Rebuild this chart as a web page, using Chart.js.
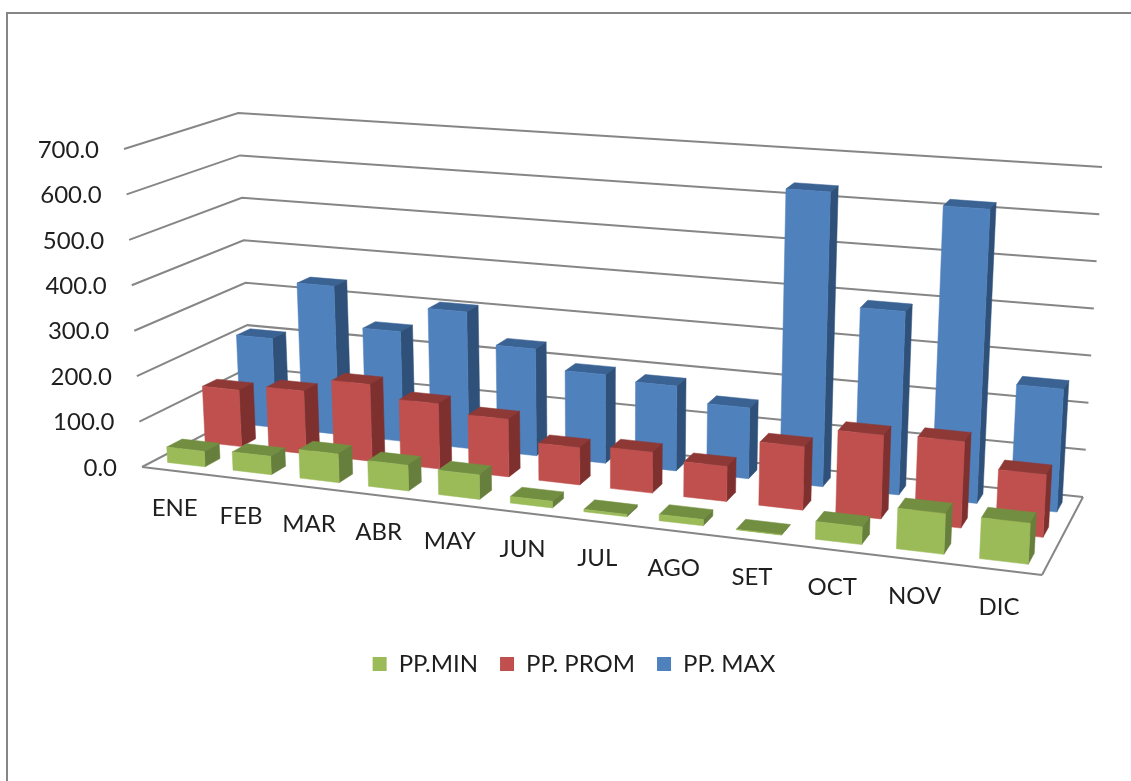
<!DOCTYPE html>
<html>
<head>
<meta charset="utf-8">
<script src="https://cdn.jsdelivr.net/npm/chart.js@4/dist/chart.umd.js"></script>
<style>
  html, body { margin: 0; padding: 0; background: #fff; overflow: hidden; }
  #stage { position: relative; width: 1131px; height: 781px; }
  #frame { position: absolute; left: 6px; top: 12px; right: -4px; bottom: -4px; border: 2px solid #868686; }
  canvas { position: absolute; left: 0; top: 0; }
</style>
</head>
<body>
<div id="stage">
  <div id="frame"></div>
  <canvas id="chart" width="1131" height="781"></canvas>
</div>
<script>
const months = ['ENE','FEB','MAR','ABR','MAY','JUN','JUL','AGO','SET','OCT','NOV','DIC'];
const ppMin  = [34, 40, 62, 55, 52, 14, 5, 13, 1, 36, 82, 82];
const ppProm = [127, 140, 170, 143, 125, 80, 87, 74, 133, 174, 178, 128];
const ppMax  = [205, 338, 248, 306, 237, 195, 185, 153, 632, 390, 620, 257];
const yTicksStep = 100;
const yMax = 700;

const faceColors = [
  { front: '#9BBB59', top: '#728F41', side: '#677F3C' },
  { front: '#C0504D', top: '#8F3936', side: '#7E302E' },
  { front: '#4F81BD', top: '#3A6394', side: '#2F5179' }
];

// Floor of the plot box on screen: front-left, front-right, back-right, back-left.
const floorQuad = [[142,467],[1042,575],[1083,497],[251,410]];
// Full axis height, in pixels, standing on each of those corners.
const cornerHeights = [318, 353, 330, 297];
// Point that all verticals converge to, far below the plot.
const verticalVanish = [609, 8723];
// Foreshortening along the category axis and into the depth.
const acrossWarp = -0.134;
const depthWarp = 0.1;
const barDepthRatio = 0.4;
const fontFamily = 'Lato, Carlito, sans-serif';
const textColor = '#1f1f1f';
const gridColor = '#868686';

const warp = (t, k) => t*(1 + k)/(1 + k*t);
const mix = (a, b, t) => [a[0] + (b[0]-a[0])*t, a[1] + (b[1]-a[1])*t];

function floorPoint(u, d) {
  const [a, b, c, e] = floorQuad;
  const fu = warp(u, acrossWarp);
  return mix(mix(a, b, fu), mix(e, c, fu), warp(d, depthWarp));
}

// u: across the categories, d: depth into the box, h: share of the value axis.
function project(u, d, h) {
  const p = floorPoint(u, d);
  const [c0, c1, c2, c3] = cornerHeights;
  const full = (c0*(1-u) + c1*u)*(1-d) + (c3*(1-u) + c2*u)*d;
  const lean = (p[0] - verticalVanish[0]) / (verticalVanish[1] - p[1]);
  return [p[0] + lean*full*h, p[1] - full*h];
}

function poly(ctx, pts, fill) {
  ctx.beginPath();
  pts.forEach((p, i) => i ? ctx.lineTo(p[0], p[1]) : ctx.moveTo(p[0], p[1]));
  ctx.closePath();
  ctx.fillStyle = fill;
  ctx.fill();
  ctx.strokeStyle = fill;
  ctx.lineWidth = 0.5;
  ctx.stroke();
}

function line(ctx, a, b) {
  ctx.beginPath();
  ctx.moveTo(a[0], a[1]);
  ctx.lineTo(b[0], b[1]);
  ctx.stroke();
}

const box3d = {
  id: 'box3d',
  // Walls, floor and the axis labels sit behind every bar.
  beforeDatasetsDraw(chart) {
    const { ctx, chartArea: area, scales: { x, y } } = chart;
    const share = v => (area.bottom - y.getPixelForValue(v)) / (area.bottom - area.top);
    ctx.save();
    ctx.strokeStyle = gridColor;
    ctx.lineWidth = 2;
    y.ticks.forEach(t => {
      const h = share(t.value);
      const pts = [project(0,0,h), project(0,1,h), project(1,1,h)];
      ctx.beginPath();
      pts.forEach((p, i) => i ? ctx.lineTo(p[0], p[1]) : ctx.moveTo(p[0], p[1]));
      ctx.stroke();
    });
    line(ctx, project(0,0,0), project(1,0,0));
    line(ctx, project(1,0,0), project(1,1,0));

    ctx.fillStyle = textColor;
    ctx.font = '24px ' + fontFamily;
    ctx.textBaseline = 'middle';
    ctx.textAlign = 'right';
    y.ticks.forEach(t => {
      const p = project(0,0,share(t.value));
      ctx.fillText(t.value.toFixed(1), p[0] - 25, p[1] + 1);
    });
    ctx.textAlign = 'center';
    months.forEach((m, i) => {
      const u = (x.getPixelForValue(i) - area.left) / (area.right - area.left);
      const p = project(u,0,0);
      ctx.fillText(m, p[0], p[1] + 37);
    });
    ctx.restore();
  },
  // Each bar element becomes a box at its series' depth slot.
  beforeDatasetDraw(chart, args) {
    const { ctx, chartArea: area } = chart;
    const colors = faceColors[args.index];
    const slot = args.index;
    const n = chart.data.datasets.length;
    const d0 = (slot + (1 - barDepthRatio)/2) / n;
    const d1 = (slot + (1 + barDepthRatio)/2) / n;
    const W = area.right - area.left, H = area.bottom - area.top;
    ctx.save();
    args.meta.data.forEach(el => {
      const u0 = (el.x - el.width/2 - area.left) / W;
      const u1 = (el.x + el.width/2 - area.left) / W;
      const h = (area.bottom - el.y) / H;
      const fb0 = project(u0,d0,0), fb1 = project(u1,d0,0), bb1 = project(u1,d1,0);
      const ft0 = project(u0,d0,h), ft1 = project(u1,d0,h), bt1 = project(u1,d1,h), bt0 = project(u0,d1,h);
      poly(ctx, [ft0, ft1, bt1, bt0], colors.top);
      poly(ctx, [fb1, bb1, bt1, ft1], colors.side);
      poly(ctx, [fb0, fb1, ft1, ft0], colors.front);
    });
    ctx.restore();
    return false;
  }
};

const seriesConfig = [
  { label: 'PP.MIN',   data: ppMin },
  { label: 'PP. PROM', data: ppProm },
  { label: 'PP. MAX',  data: ppMax }
];

new Chart(document.getElementById('chart'), {
  type: 'bar',
  data: {
    labels: months,
    datasets: seriesConfig.map((s, i) => ({
      label: s.label,
      data: s.data,
      backgroundColor: faceColors[i].front,
      borderWidth: 0,
      grouped: false,
      categoryPercentage: 0.575,
      barPercentage: 1
    }))
  },
  plugins: [box3d],
  options: {
    responsive: false,
    animation: false,
    layout: { padding: { top: 149, left: 17, right: 0, bottom: 95 } },
    plugins: {
      tooltip: { enabled: false },
      legend: {
        position: 'bottom',
        labels: {
          boxWidth: 14, boxHeight: 14, padding: 22,
          color: textColor,
          font: { family: fontFamily, size: 24 }
        }
      }
    },
    scales: {
      x: {
        grid: { display: false }, border: { display: false },
        ticks: { display: false },
        afterFit(s) { s.height = 151; }
      },
      y: {
        min: 0, max: yMax,
        grid: { display: false }, border: { display: false },
        ticks: { display: false, stepSize: yTicksStep },
        afterFit(s) { s.width = 125; }
      }
    }
  }
});
</script>
</body>
</html>
